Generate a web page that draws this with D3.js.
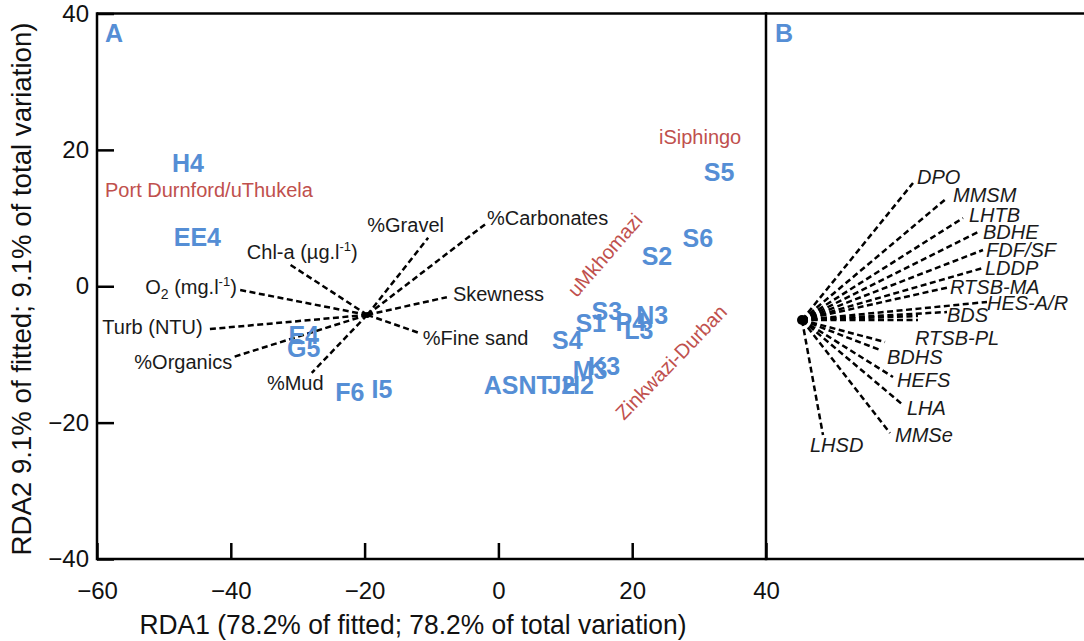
<!DOCTYPE html>
<html><head><meta charset="utf-8">
<script src="https://cdn.jsdelivr.net/npm/d3@7"></script>
<style>
body{margin:0;background:#fff;}
svg{display:block;font-family:"Liberation Sans",Arial,sans-serif;}
</style></head>
<body><svg id="c" width="1084" height="641"></svg>
<script>
// ---- data ----
const xTicks = [-60, -40, -20, 0, 20, 40];
const yTicks = [-40, -20, 0, 20, 40];

const siteLabels = ["H4","EE4","E4","G5","F6","I5","S5","S6","S2","S3","N3","S1","P4","L3","S4","M3","K3","ASNT","J2","H2"];
const siteX = [-46.4,-45.0,-29.1,-29.1,-22.2,-17.4,33.0,29.8,23.7,16.2,23.0,13.8,19.8,21.0,10.3,13.7,15.8,2.9,9.4,11.9];
const siteY = [18.1,7.2,-7.2,-9.1,-15.5,-15.1,16.8,7.1,4.4,-3.6,-4.2,-5.4,-5.2,-6.4,-7.9,-12.3,-11.7,-14.5,-14.5,-14.5];

const envOrigin = [-19.6, -4.2];
const envLabels = ["O2","Turb (NTU)","%Organics","%Mud","Chl-a","%Gravel","%Carbonates","Skewness","%Fine sand"];
const envX = [-38.6,-43.4,-39.7,-27.9,-31.5,-10.5,-1.7,-7.7,-11.7];
const envY = [-0.55,-6.3,-10.4,-12.7,3.4,7.1,9.3,-1.6,-6.9];
const envLabelX = [-39.1,-44.2,-39.8,-34.6,-37.6,-19.6,-1.7,-6.8,-11.3];
const envLabelY = [-0.1,-6.0,-11.1,-14.2,5.0,9.0,10.0,-1.1,-7.6];
const envAnchor = ["end","end","end","start","start","start","start","start","start"];

const regionLabels = ["Port Durnford/uThukela","iSiphingo","uMkhomazi","Zinkwazi-Durban"];
const regionX = [-58.8, 24.0, 15.9, 25.8];
const regionY = [14.1, 21.9, 4.6, -11.1];
const regionAngle = [0, 0, -49, -46];
const regionAnchor = ["start","start","middle","middle"];

const speciesLabels = ["DPO","MMSM","LHTB","BDHE","FDF/SF","LDDP","RTSB-MA","HES-A/R","BDS","","","RTSB-PL","BDHS","HEFS","LHA","MMSe","LHSD"];
const speciesX = [0.555,0.725,0.805,0.88,0.905,0.905,0.74,0.925,0.725,0.58,0.58,0.415,0.39,0.455,0.505,0.44,0.105];
const speciesY = [0.685,0.61,0.51,0.44,0.35,0.26,0.165,0.09,0.04,0.0,0.02,-0.11,-0.15,-0.285,-0.425,-0.565,-0.575];
const speciesLabelX = [0.575,0.755,0.835,0.905,0.92,0.915,0.74,0.925,0.725,0,0,0.565,0.425,0.475,0.525,0.465,0.04];
const speciesLabelY = [0.715,0.625,0.525,0.44,0.35,0.26,0.165,0.085,0.025,0,0,-0.09,-0.185,-0.3,-0.44,-0.575,-0.625];

// ---- drawing ----
const svg = d3.select("#c");
const blue = "#558ED5", red = "#C0504D";
const x = d3.scaleLinear().domain([-60, 40]).range([97, 766]);
const y = d3.scaleLinear().domain([-40, 40]).range([559, 13.5]);
const xB = d3.scaleLinear().domain([0, 1]).range([802, 1002]);
const yB = d3.scaleLinear().domain([0, 1]).range([320, 120]);

// axes
const gx = svg.append("g").attr("transform", `translate(0,${y(-40)})`)
  .call(d3.axisBottom(x).tickValues(xTicks).tickSize(-16).tickPadding(23).tickFormat(d3.format("d")));
const gy = svg.append("g").attr("transform", `translate(${x(-60)},0)`)
  .call(d3.axisLeft(y).tickValues(yTicks).tickSize(-17).tickPadding(8).tickFormat(d3.format("d")));
[gx, gy].forEach(g => {
  g.select(".domain").remove();
  g.selectAll(".tick line").attr("stroke", "#000").attr("stroke-width", 2.5);
  g.selectAll(".tick text").attr("font-size", 24).attr("fill", "#111")
    .attr("font-family", "Liberation Sans, Arial, sans-serif");
});
gx.selectAll(".tick text").attr("dy", "0.71em");

// frame
const frame = svg.append("g").attr("stroke", "#000").attr("stroke-width", 2.5).attr("fill", "none");
frame.append("line").attr("x1", x(-60)).attr("x2", 1084).attr("y1", y(40)).attr("y2", y(40));
frame.append("line").attr("x1", x(-60)).attr("x2", 1084).attr("y1", y(-40)).attr("y2", y(-40));
frame.append("line").attr("x1", x(-60)).attr("x2", x(-60)).attr("y1", y(40) - 1.25).attr("y2", y(-40) + 1.25);
frame.append("line").attr("x1", x(40)).attr("x2", x(40)).attr("y1", y(40) - 1.25).attr("y2", y(-40) + 1.25);

// axis titles
svg.append("text").attr("x", 413).attr("y", 634).attr("text-anchor", "middle")
  .attr("font-size", 28).attr("textLength", 547).attr("lengthAdjust", "spacingAndGlyphs").attr("fill", "#111")
  .text("RDA1 (78.2% of fitted; 78.2% of total variation)");
svg.append("text").attr("transform", "translate(31,289) rotate(-90)").attr("text-anchor", "middle")
  .attr("font-size", 28).attr("textLength", 533).attr("lengthAdjust", "spacingAndGlyphs").attr("fill", "#111")
  .text("RDA2 9.1% of fitted; 9.1% of total variation)");

// panel letters
svg.append("text").attr("x", 105).attr("y", 42).attr("font-size", 25).attr("font-weight", "bold").attr("fill", blue).text("A");
svg.append("text").attr("x", 775).attr("y", 42).attr("font-size", 25).attr("font-weight", "bold").attr("fill", blue).text("B");

// env vectors
const env = envLabels.map((l, i) => ({l, x: envX[i], y: envY[i], lx: envLabelX[i], ly: envLabelY[i], a: envAnchor[i]}));
svg.append("g").selectAll("line").data(env).join("line")
  .attr("x1", x(envOrigin[0])).attr("y1", y(envOrigin[1]))
  .attr("x2", d => x(d.x)).attr("y2", d => y(d.y))
  .attr("stroke", "#000").attr("stroke-width", 2.5).attr("stroke-dasharray", "6,3.5");
svg.append("circle").attr("cx", x(envOrigin[0])).attr("cy", y(envOrigin[1])).attr("r", 3).attr("fill", "#000");
const envT = svg.append("g").selectAll("text").data(env).join("text")
  .attr("x", d => x(d.lx)).attr("y", d => y(d.ly)).attr("dy", "0.36em")
  .attr("text-anchor", d => d.a).attr("font-size", 20).attr("fill", "#1a1a1a");
envT.each(function(d) {
  const t = d3.select(this);
  if (d.l === "O2") {
    t.append("tspan").text("O");
    t.append("tspan").attr("font-size", 14).attr("dy", 5).text("2");
    t.append("tspan").attr("dy", -5).text(" (mg.l");
    t.append("tspan").attr("font-size", 13).attr("dy", -8).text("-1");
    t.append("tspan").attr("dy", 8).text(")");
  } else if (d.l === "Chl-a") {
    t.append("tspan").text("Chl-a (µg.l");
    t.append("tspan").attr("font-size", 13).attr("dy", -8).text("-1");
    t.append("tspan").attr("dy", 8).text(")");
  } else t.text(d.l);
});

// region labels
svg.append("g").selectAll("text").data(regionLabels.map((l, i) => ({l, x: regionX[i], y: regionY[i], r: regionAngle[i], a: regionAnchor[i]})))
  .join("text")
  .attr("transform", d => `translate(${x(d.x)},${y(d.y)}) rotate(${d.r})`)
  .attr("dy", "0.36em").attr("text-anchor", d => d.a)
  .attr("font-size", 20).attr("fill", red).text(d => d.l);

// site labels
svg.append("g").selectAll("text").data(siteLabels.map((l, i) => ({l, x: siteX[i], y: siteY[i]})))
  .join("text")
  .attr("x", d => x(d.x)).attr("y", d => y(d.y)).attr("dy", "0.36em")
  .attr("text-anchor", "middle").attr("font-size", 25).attr("font-weight", "bold")
  .attr("fill", blue).text(d => d.l);

// panel B species vectors
const sp = speciesLabels.map((l, i) => ({l, x: speciesX[i], y: speciesY[i], lx: speciesLabelX[i], ly: speciesLabelY[i]}));
svg.append("g").selectAll("line").data(sp).join("line")
  .attr("x1", xB(0)).attr("y1", yB(0))
  .attr("x2", d => xB(d.x)).attr("y2", d => yB(d.y))
  .attr("stroke", "#000").attr("stroke-width", 2.5).attr("stroke-dasharray", "6,3.5");
svg.append("circle").attr("cx", xB(0)).attr("cy", yB(0)).attr("r", 5).attr("fill", "#000");
svg.append("g").selectAll("text").data(sp.filter(d => d.l)).join("text")
  .attr("x", d => xB(d.lx)).attr("y", d => yB(d.ly)).attr("dy", "0.36em")
  .attr("font-size", 20).attr("font-style", "italic").attr("fill", "#1a1a1a").text(d => d.l);
</script></body></html>
